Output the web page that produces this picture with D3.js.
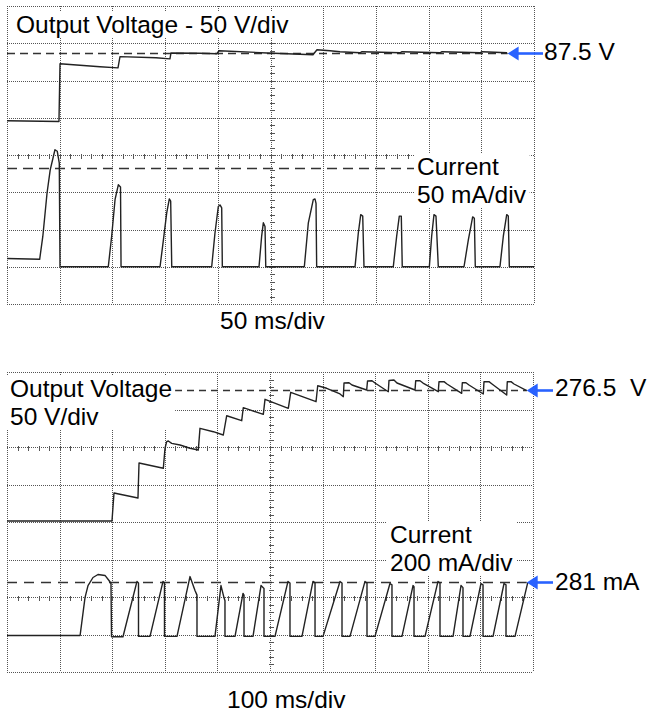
<!DOCTYPE html>
<html>
<head>
<meta charset="utf-8">
<script src="https://cdn.jsdelivr.net/npm/d3@7"></script>
<style>
body { margin: 0; background: #fff; }
svg { display: block; font-family: "Liberation Sans", Arial, sans-serif; }
.grid { stroke: #555; stroke-width: 1; stroke-dasharray: 1,1; shape-rendering: crispEdges; fill: none; }
.mtick { stroke: #555; stroke-width: 1; shape-rendering: crispEdges; }
.trace { fill: none; stroke: #222; stroke-width: 1.4; stroke-linejoin: round; }
.ref { stroke: #333; stroke-width: 1.3; }
.label { font-size: 24.5px; fill: #000; white-space: pre; }
</style>
</head>
<body>
<div id="chart"></div>
<script>
/* values: [time ms, volts] and [time ms, mA] */
var topVoltage = [[0,-4],[49.3,-5],[50.3,72.5],[88.2,68.4],[105.3,67],[107.2,82],[141.4,80.5],[154.6,79],
    [155.6,87],[183.1,86.6],[199.2,86],[201.1,90],[246.7,87],[290.3,84.5],[294.1,91.3],[306.5,90],
    [315.9,88.6],[334.9,87.2],[336.8,88.6],[372.9,87.2],[374.8,88.6],[410.8,87.2],[412.7,88.6],
    [448.8,87.2],[450.7,88.6],[474.4,87.2]]

var topCurrent = [[0,11],[31,10],[34,41],[38,99],[41,130],[45.5,157],[47.7,155],[49.6,139],[50.3,0],
    [96.1,0],[99.3,41],[102.5,90],[105.6,110],[107.7,107],[108.2,0],
    [145.2,0],[148.4,36],[151.5,72],[154,91],[155.3,88],[156.3,0],
    [194.2,0],[197.3,45],[200.5,81],[202.1,83],[203.7,79],[204.3,0],
    [239.1,0],[241.6,41],[243.2,59],[244.8,54],[245.5,0],
    [282.1,0],[285.9,59],[290.6,90],[292.2,91],[293.2,85],[293.8,0],
    [330.2,0],[333.3,45],[335.6,70],[337.5,68],[338.7,0],
    [366.5,0],[369.7,41],[372.2,68],[374.1,68],[375,0],
    [400.7,0],[402.9,41],[405.1,70],[407,68],[409.2,0],
    [433.6,0],[437.7,36],[441.8,67],[443.4,65],[444.3,0],
    [467.7,0],[470.9,41],[474.1,70],[475.6,68],[476.6,0],
    [500,0]]

var bottomVoltage = [[0,101.3],[199.6,101.3],[201.5,120],[203.4,138.7],[249,132],[251,178.7],
    [297.2,171.6],[300.4,198.3],[303.6,207.1],[306.7,208],[313.1,204.9],[328.9,202.7],[347.9,198.3],
    [363.7,196],[366.9,224.9],[392.2,220.4],[411.2,216],[417.7,241.7],[446.2,235.1],[449.2,252.4],
    [487.3,243.6],[490.5,263.6],[534.8,251.6],[539.4,272.9],[587.5,260.4],[590.7,281.7],[607.8,278.3],
    [633.1,270.7],[639.4,267.1],[640.7,285.3],[650.2,285.7],[655.9,282.7],[683.8,276],[685.4,288],
    [693.9,288.4],[699.6,285.3],[724.9,273.7],[726.2,288.7],[735.7,289.3],[741.4,285.3],[775.7,276],
    [777,288.4],[785.2,288.4],[790.9,285.3],[819.9,273.7],[821.3,287.1],[830.8,287.1],[836.5,284],
    [864.4,271.6],[865.6,285.7],[872.6,285.7],[878.3,282.7],[905.5,270.7],[906.8,287.1],[916.3,287.1],
    [922.1,284],[950,269.3],[951.1,287.1],[958.2,287.1],[963.9,284],[988,275.1]]

var bottomCurrent = [[0,-5],[139,-5],[148.3,197],[154,261],[163.5,304],[173,320],[186.3,315],[193.9,288],
    [197.7,272],[198.7,-12],
    [220.5,-12],[247.1,283],[250,275],[250,-10],
    [271.9,-10],[296.6,283],[299.4,275],[299.4,-10],
    [323.2,-10],[347.9,309],[357.4,235],[361.2,210],[361.2,-10],
    [395.4,-10],[406.8,261],[412.5,197],[414.4,180],[414.4,-10],
    [433.5,-10],[448.7,219],[450.6,210],[450.6,-10],
    [467.7,-10],[482.9,261],[488.6,245],[488.6,-10],
    [509.5,-10],[534.2,283],[538,275],[538,-10],
    [560.8,-10],[581.7,283],[585.6,275],[585.6,-10],
    [600.8,-10],[633.1,283],[636.9,275],[636.9,-10],
    [652.1,-10],[680.6,283],[684.4,275],[684.4,-10],
    [699.6,-10],[728.1,272],[731.9,265],[731.9,-10],
    [750.9,-10],[771.9,261],[773.8,255],[773.8,-10],
    [794.7,-10],[819.4,283],[823.2,275],[823.2,-10],
    [848,-10],[863.1,261],[866.9,250],[866.9,-10],
    [880.2,-10],[901.1,272],[905,265],[905,-10],
    [924,-10],[944.9,272],[948.7,265],[948.7,-10],
    [965.8,-10],[990,277]]

/* reference levels: [voltage, current] */
var topRefs = [87.5, 133]
var bottomRefs = [276.5, 281]

var topText = ["Output Voltage - 50 V/div", "Current", "50 mA/div", "50 ms/div", "87.5 V"]
var bottomText = ["Output Voltage", "50 V/div", "Current", "200 mA/div", "100 ms/div", "276.5  V", "281 mA"]

var BLUE = "#2962ff"

var svg = d3.select("#chart").append("svg").attr("width", 648).attr("height", 713)

function px(v){ return Math.round(v) + 0.5 }

function scope(box, tMax, vDomain, iDomain, tickRows) {
    var p = {}
    p.x = d3.scaleLinear().domain([0, tMax]).range([box.left, box.right])
    p.yV = d3.scaleLinear().domain(vDomain).range([box.bottom, box.top])
    p.yI = d3.scaleLinear().domain(iDomain).range([box.bottom, box.top])
    var gx = d3.scaleLinear().domain([0, 10]).range([box.left, box.right])
    var gy = d3.scaleLinear().domain([0, 8]).range([box.bottom, box.top])
    p.g = svg.append("g")

    /* graticule */
    p.g.selectAll(".vline").data(d3.range(11)).enter().append("line")
        .attr("class", "grid")
        .attr("x1", function(d){ return px(gx(d)) }).attr("x2", function(d){ return px(gx(d)) })
        .attr("y1", box.top).attr("y2", box.bottom)
    p.g.selectAll(".hline").data(d3.range(9)).enter().append("line")
        .attr("class", "grid")
        .attr("y1", function(d){ return px(gy(d)) }).attr("y2", function(d){ return px(gy(d)) })
        .attr("x1", box.left).attr("x2", box.right)

    //minor ticks on the centre column and the marked rows
    p.g.selectAll(".vt").data(d3.range(1, 40)).enter().append("line")
        .attr("class", "mtick")
        .attr("x1", px(gx(5)) - 2).attr("x2", px(gx(5)) + 3)
        .attr("y1", function(d){ return px(gy(d / 5)) }).attr("y2", function(d){ return px(gy(d / 5)) })
    tickRows.forEach(function(r){
        p.g.selectAll(".ht" + r).data(d3.range(1, 50)).enter().append("line")
            .attr("class", "mtick")
            .attr("y1", px(gy(r)) - 2).attr("y2", px(gy(r)) + 3)
            .attr("x1", function(d){ return px(gx(d / 5)) }).attr("x2", function(d){ return px(gx(d / 5)) })
    })
    return p
}

function trace(p, data, y) {
    var line = d3.line().x(function(d){ return p.x(d[0]) }).y(function(d){ return y(d[1]) })
    p.g.append("path").attr("class", "trace").attr("d", line(data))
}

function refLine(p, level, y, tEnd, dash) {
    p.g.append("line").attr("class", "ref")
        .attr("x1", p.x(0)).attr("x2", p.x(tEnd))
        .attr("y1", px(y(level))).attr("y2", px(y(level)))
        .attr("stroke-dasharray", dash)
}

function arrow(tipX, tailX, yy) {
    svg.append("line").attr("x1", tipX + 8).attr("x2", tailX)
        .attr("y1", yy).attr("y2", yy)
        .attr("stroke", BLUE).attr("stroke-width", 2.6)
    svg.append("path")
        .attr("d", "M" + tipX + "," + yy + "L" + (tipX + 11) + "," + (yy - 7) + "L" + (tipX + 11) + "," + (yy + 7) + "Z")
        .attr("fill", BLUE)
}

function label(lines, x, y, boxed) {
    var g = svg.append("g")
    var t = g.append("text").attr("class", "label")
    lines.forEach(function(s, i){
        t.append("tspan").attr("x", x).attr("y", y + i * 28).text(s)
    })
    if (boxed) {
        var b = t.node().getBBox()
        g.insert("rect", "text").attr("x", b.x - 3).attr("y", b.y + 1)
            .attr("width", b.width + 6).attr("height", b.height - 1).attr("fill", "#fff")
    }
}

/* Top shot: 50 ms/div */
var topShot = scope({left: 7, right: 534, top: 6, bottom: 304}, 500, [-250, 150], [-50, 350], [4])
refLine(topShot, topRefs[0], topShot.yV, 475, "8,5")
refLine(topShot, topRefs[1], topShot.yI, 500, "10,6")
trace(topShot, topVoltage, topShot.yV)
trace(topShot, topCurrent, topShot.yI)
label([topText[0]], 16, 33, true)
label([topText[1], topText[2]], 417, 175, true)
label([topText[3]], 220, 329, false)
arrow(topShot.x(475), 543, px(topShot.yV(topRefs[0])))
label([topText[4]], 544, 60, false)

/* Bottom shot: 100 ms/div */
var botShot = scope({left: 7, right: 533, top: 372, bottom: 672}, 1000, [-100, 300], [-200, 1400], [2, 6])
refLine(botShot, bottomRefs[0], botShot.yV, 988, "7,5")
refLine(botShot, bottomRefs[1], botShot.yI, 988, "10,7")
trace(botShot, bottomVoltage, botShot.yV)
trace(botShot, bottomCurrent, botShot.yI)
label([bottomText[0], bottomText[1]], 10, 397, true)
label([bottomText[2], bottomText[3]], 390, 543, true)
label([bottomText[4]], 227, 708, false)
arrow(botShot.x(988), 553, px(botShot.yV(bottomRefs[0])))
label([bottomText[5]], 555, 396, false)
arrow(botShot.x(988), 553, px(botShot.yI(bottomRefs[1])))
label([bottomText[6]], 555, 590, false)
</script>
</body>
</html>
